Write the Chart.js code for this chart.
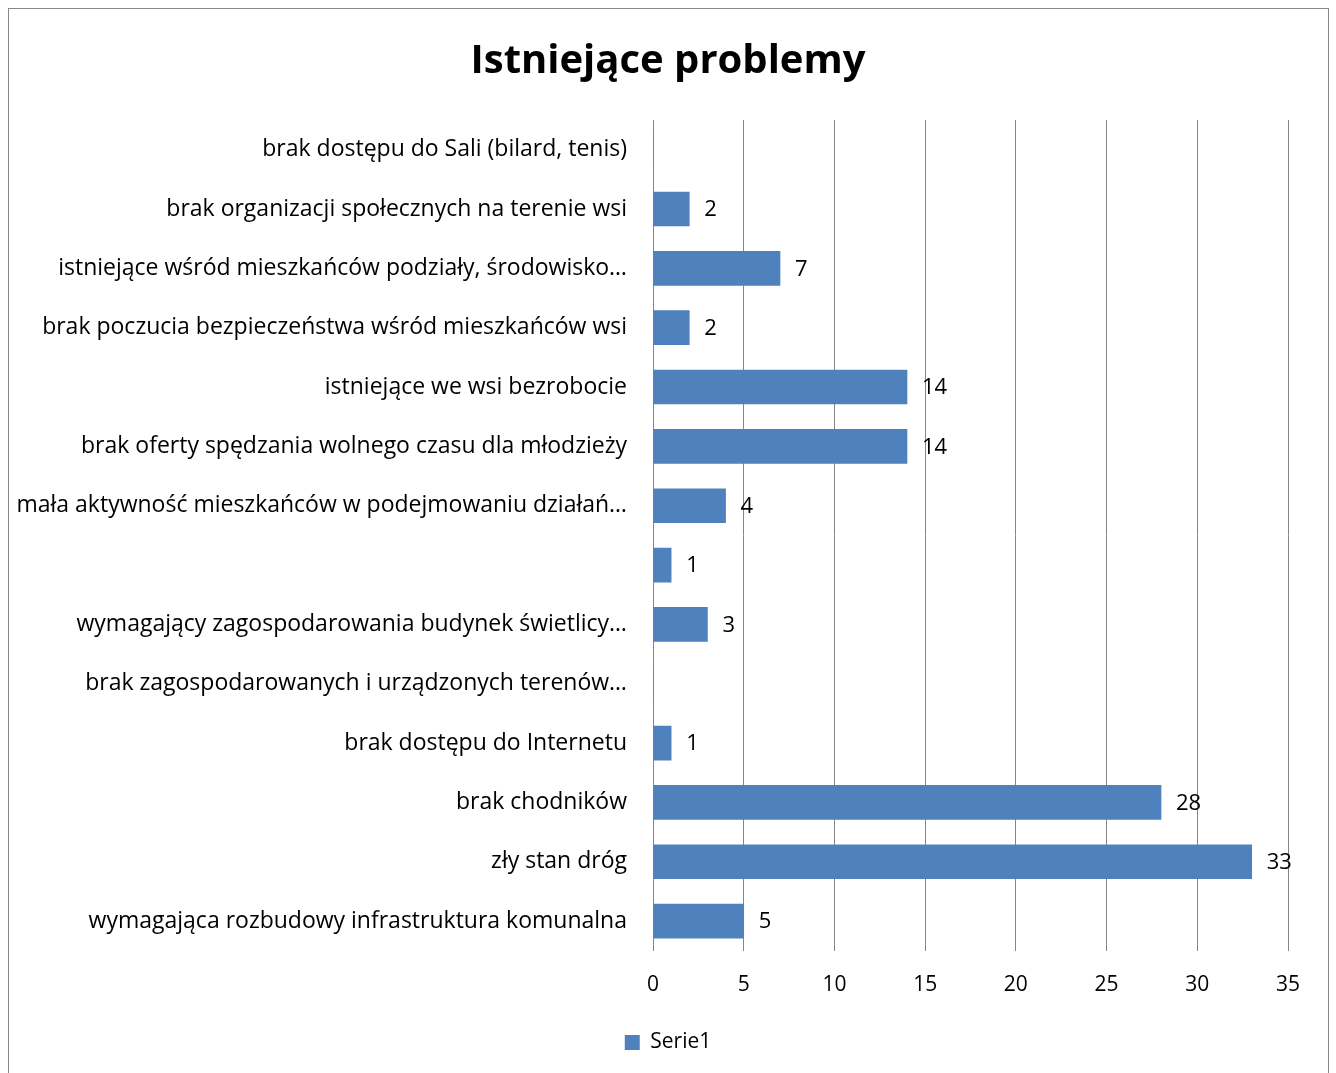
<!DOCTYPE html>
<html>
<head>
<meta charset="utf-8">
<script src="https://cdn.jsdelivr.net/npm/chart.js@4.4.1/dist/chart.umd.min.js"></script>
<style>
  html, body { margin: 0; padding: 0; background: #fff; }
  #wrap { position: relative; width: 1336px; height: 1073px; }
</style>
</head>
<body>
<div id="wrap"><canvas id="grafico" width="1336" height="1073"></canvas></div>
<script>
const kategorie = [
    'brak dostępu do Sali (bilard, tenis)',
    'brak organizacji społecznych na terenie wsi',
    'istniejące wśród mieszkańców podziały, środowisko…',
    'brak poczucia bezpieczeństwa wśród mieszkańców wsi',
    'istniejące we wsi bezrobocie',
    'brak oferty spędzania wolnego czasu dla młodzieży',
    'mała aktywność mieszkańców w podejmowaniu działań…',
    '',
    'wymagający zagospodarowania budynek świetlicy…',
    'brak zagospodarowanych i urządzonych terenów…',
    'brak dostępu do Internetu',
    'brak chodników',
    'zły stan dróg',
    'wymagająca rozbudowy infrastruktura komunalna'
];
const wartosci = [0, 2, 7, 2, 14, 14, 4, 1, 3, 0, 1, 28, 33, 5];
const osX = [0, 5, 10, 15, 20, 25, 30, 35];

const czcionka = "'Open Sans', 'DejaVu Sans', sans-serif";

// ramka wokol wykresu
const ramka = {
    id: 'ramka',
    beforeDraw(chart) {
        const ctx = chart.ctx;
        ctx.save();
        ctx.fillStyle = '#fff';
        ctx.fillRect(0, 0, chart.width, chart.height);
        ctx.strokeStyle = '#888';
        ctx.lineWidth = 1;
        ctx.strokeRect(8.5, 8.5, 1320, 1100);
        ctx.restore();
    }
};

// etykiety z wartosciami przy slupkach
const etykiety = {
    id: 'etykiety',
    afterDatasetsDraw(chart) {
        const ctx = chart.ctx;
        const meta = chart.getDatasetMeta(0);
        ctx.save();
        ctx.font = '22px ' + czcionka;
        ctx.fillStyle = '#000';
        ctx.textAlign = 'left';
        ctx.textBaseline = 'middle';
        meta.data.forEach((bar, i) => {
            const v = wartosci[i];
            if (!v) return;
            ctx.fillText(String(v), bar.x + 15, bar.y + 1);
        });
        ctx.restore();
    }
};

new Chart(document.getElementById('grafico').getContext('2d'), {
    type: 'bar',
    data: {
        labels: kategorie,
        datasets: [{
            label: 'Serie1',
            data: wartosci,
            backgroundColor: '#4F81BD',
            borderWidth: 0,
            barThickness: 34
        }]
    },
    options: {
        indexAxis: 'y',
        responsive: false,
        animation: false,
        layout: { padding: { left: 48, right: 48, top: 38, bottom: 10 } },
        plugins: {
            title: {
                display: true,
                text: 'Istniejące problemy',
                color: '#000',
                font: { family: czcionka, size: 40, weight: 'bold' },
                padding: { top: 0, bottom: 34 }
            },
            legend: {
                display: true,
                position: 'bottom',
                labels: {
                    color: '#000',
                    font: { family: czcionka, size: 21 },
                    boxWidth: 15,
                    boxHeight: 15,
                    padding: 12
                }
            },
            tooltip: { enabled: false }
        },
        scales: {
            x: {
                min: 0,
                max: 35,
                afterBuildTicks(scale) {
                    scale.ticks = osX.map(v => ({ value: v }));
                },
                grid: { color: '#868686', lineWidth: 1, drawTicks: false },
                border: { display: false },
                ticks: {
                    color: '#000',
                    font: { family: czcionka, size: 21 },
                    padding: 22,
                    maxRotation: 0
                }
            },
            y: {
                grid: { display: false, drawTicks: false },
                border: { display: true, color: '#868686', width: 1 },
                afterFit(scale) { scale.width = 605; },
                // dlugie etykiety wychodza poza lewy margines - bez przycinania
                afterUpdate(scale) { scale._computeLabelArea = () => null; },
                ticks: {
                    color: '#000',
                    font: { family: czcionka, size: 23 },
                    padding: 26,
                    autoSkip: false
                }
            }
        }
    },
    plugins: [ramka, etykiety]
});
</script>
</body>
</html>
